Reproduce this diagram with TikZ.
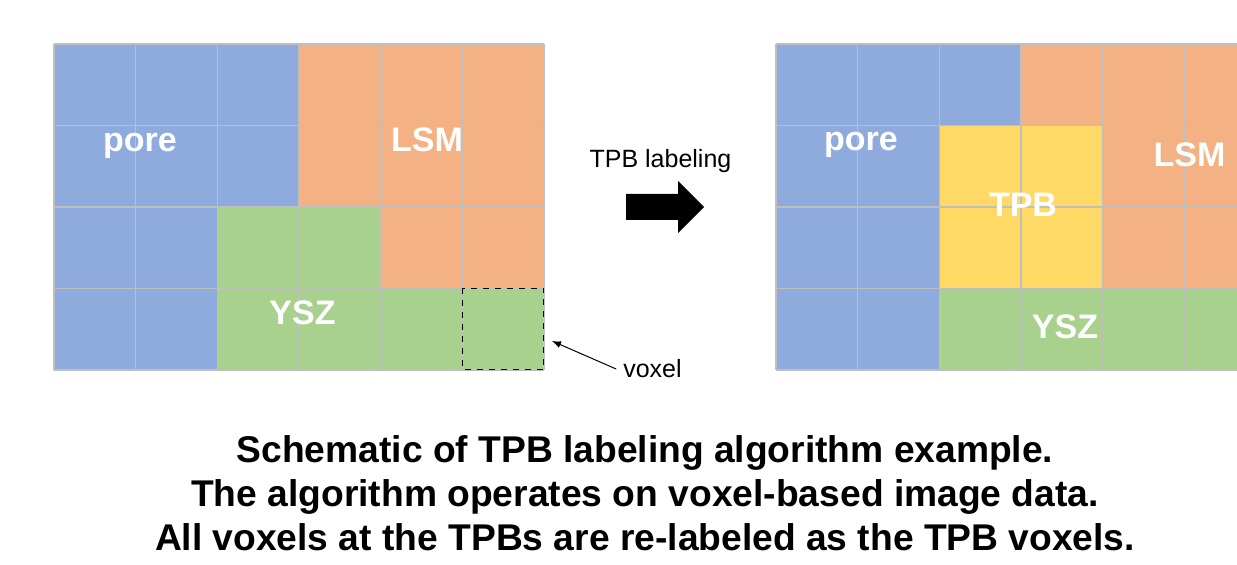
\documentclass[tikz,border=0pt]{standalone}
\usepackage{fontspec}
\setmainfont{Liberation Sans}
\usetikzlibrary{arrows.meta}
\definecolor{PoreBlue}{RGB}{143,170,220}
\definecolor{LsmOrange}{RGB}{244,177,131}
\definecolor{YszGreen}{RGB}{169,209,142}
\definecolor{TpbYellow}{RGB}{255,217,102}
\definecolor{GridGray}{RGB}{191,191,191}

\begin{document}
\begin{tikzpicture}[x=0.5pt,y=-0.5pt,>=Latex,
  phase/.style={font=\fontsize{17}{20}\selectfont\bfseries,text=white,anchor=base,inner sep=0pt},
  note/.style={font=\fontsize{12.5}{15}\selectfont,anchor=base},
  caption/.style={font=\fontsize{18.6}{22}\selectfont\bfseries,anchor=base},
  gridline/.style={GridGray,line width=0.75pt},
  cells/.style={shift={(#1pt,-22pt)},x=40.83pt,y=-40.75pt}]
  \clip (0,0) rectangle (1237,565);

  % voxels before labeling
  \begin{scope}[cells=27]
    \fill[PoreBlue] (0,0) rectangle (3,2) (0,2) rectangle (2,4);
    \fill[LsmOrange] (3,0) rectangle (6,2) (4,2) rectangle (6,3);
    \fill[YszGreen] (2,2) rectangle (4,4) (4,3) rectangle (6,4);
    \foreach \i in {0,...,6} \draw[gridline] (\i,0) -- (\i,4);
    \foreach \j in {0,...,4} \draw[gridline] (0,\j) -- (6,\j);
    \draw[dashed,line width=0.5pt] (5,3) rectangle (6,4);
    \coordinate (box) at (6.098,3.644);
  \end{scope}
  \node[phase] (pore1) at (140,151.5) {pore};
  \node[phase] (lsm1) at (427,152) {LSM};
  \node[phase] (ysz1) at (302.5,325) {YSZ};

  % voxels after labeling
  \begin{scope}[cells=388]
    \fill[PoreBlue] (0,0) rectangle (3,1) (0,1) rectangle (2,4);
    \fill[LsmOrange] (3,0) rectangle (6,1) (4,1) rectangle (6,3);
    \fill[TpbYellow] (2,1) rectangle (4,3);
    \fill[YszGreen] (2,3) rectangle (6,4);
    \foreach \i in {0,...,6} \draw[gridline] (\i,0) -- (\i,4);
    \foreach \j in {0,...,4} \draw[gridline] (0,\j) -- (6,\j);
  \end{scope}
  \node[phase] (pore2) at (861,150.5) {pore};
  \node[phase] (lsm2) at (1189.5,166.5) {LSM};
  \node[phase] (tpb) at (1023,217) {TPB};
  \node[phase] (ysz2) at (1065,339) {YSZ};

  % labeling step
  \node[note] (lab) at (660.5,168) {TPB labeling};
  \fill (626,194) -- (678,194) -- (678,181) -- (704,207) -- (678,233) -- (678,220) -- (626,220) -- cycle;
  \node[note] (voxel) at (652.5,378) {voxel};
  \draw[-{Latex[length=4.5pt,width=3.5pt]},line width=0.5pt] (voxel.west) -- (box);

  \node[caption] (cap1) at (645,463) {Schematic of TPB labeling algorithm example.};
  \node[caption] (cap2) at (645,507) {The algorithm operates on voxel-based image data.};
  \node[caption] (cap3) at (645,551) {All voxels at the TPBs are re-labeled as the TPB voxels.};
\end{tikzpicture}
\end{document}
